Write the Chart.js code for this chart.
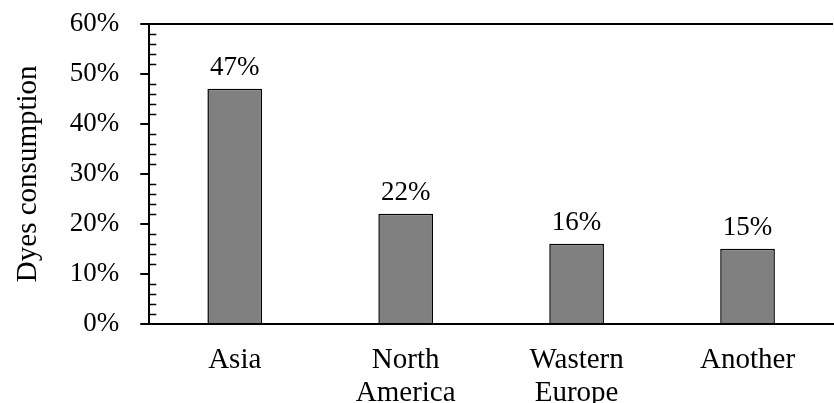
<!DOCTYPE html>
<html lang="en">
<head>
  <meta charset="UTF-8">
  <title>Dyes consumption</title>
  <script src="https://cdn.jsdelivr.net/npm/chart.js"></script>
  <style>
    html, body { margin: 0; padding: 0; background: #fff; }
    #wrap { width: 834px; height: 403px; }
  </style>
</head>
<body>
  <div id="wrap"><canvas id="chart" width="834" height="403"></canvas></div>

  <script>
    const regions = [['Asia'], ['North', 'America'], ['Wastern', 'Europe'], ['Another']];
    const consumption = [47, 22, 16, 15];
    const yTicks = [0, 10, 20, 30, 40, 50, 60];

    const font = 'Liberation Serif, Times New Roman, serif';

    // minor ticks on the inside of the y axis + value labels above the bars
    const extras = {
      id: 'extras',
      afterDatasetsDraw(chart) {
        const ctx = chart.ctx;
        const y = chart.scales.y;
        const x0 = chart.chartArea.left;
        ctx.save();
        ctx.strokeStyle = '#000';
        ctx.lineWidth = 1.5;
        for (let v = 0; v <= 60; v += 2) {
          if (v % 10 === 0) continue;
          const py = Math.round(y.getPixelForValue(v)) + 0.5;
          ctx.beginPath();
          ctx.moveTo(x0, py);
          ctx.lineTo(x0 + 7, py);
          ctx.stroke();
        }
        ctx.fillStyle = '#000';
        ctx.font = '27px ' + font;
        ctx.textAlign = 'center';
        ctx.textBaseline = 'alphabetic';
        chart.getDatasetMeta(0).data.forEach((bar, i) => {
          ctx.fillText(consumption[i] + '%', bar.x, bar.y - 14);
        });
        ctx.restore();
      }
    };

    new Chart(document.getElementById('chart'), {
      type: 'bar',
      data: {
        labels: regions,
        datasets: [{
          data: consumption,
          backgroundColor: '#808080',
          borderColor: '#000',
          borderWidth: 1.5,
          barPercentage: 0.32,
          categoryPercentage: 1
        }]
      },
      options: {
        responsive: false,
        animation: false,
        layout: { padding: { left: 8, right: 1, top: 0, bottom: -27 } },
        plugins: { legend: { display: false }, tooltip: { enabled: false } },
        scales: {
          x: {
            grid: { display: false, drawTicks: false },
            border: { color: '#000', width: 2 },
            ticks: { color: '#000', font: { family: font, size: 29, lineHeight: 1.14 }, padding: 20, maxRotation: 0 }
          },
          y: {
            min: 0,
            max: 60,
            afterBuildTicks(axis) { axis.ticks = yTicks.map(v => ({ value: v })); },
            grid: {
              drawOnChartArea: true,
              color: c => c.tick && c.tick.value === 60 ? '#000' : 'rgba(0,0,0,0)',
              lineWidth: 2,
              tickColor: '#000',
              tickLength: 9
            },
            border: { color: '#000', width: 2 },
            ticks: {
              color: '#000',
              // small lineHeight keeps the top of the plot close to the canvas edge
              font: { family: font, size: 27, lineHeight: 0.2 },
              padding: 21,
              callback: v => v + '%'
            },
            title: {
              display: true,
              text: 'Dyes consumption',
              color: '#000',
              font: { family: font, size: 29, lineHeight: 1.2 },
              padding: { top: 3, bottom: 3 }
            }
          }
        }
      },
      plugins: [extras]
    });
  </script>
</body>
</html>
